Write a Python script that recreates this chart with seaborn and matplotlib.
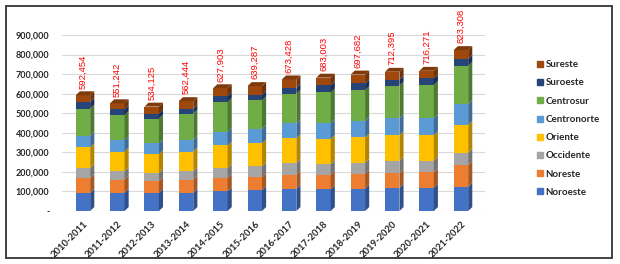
import numpy as np
import matplotlib
matplotlib.use("Agg")
import matplotlib.pyplot as plt
from matplotlib import font_manager
from matplotlib.lines import Line2D
from matplotlib.patches import Rectangle
import seaborn as sns

# Datos del gráfico (alumnos por región y ciclo escolar)
anios = ['2010-2011', '2011-2012', '2012-2013', '2013-2014', '2014-2015', '2015-2016',
         '2016-2017', '2017-2018', '2018-2019', '2019-2020', '2020-2021', '2021-2022']
noroeste = [93000, 93000, 93000, 93000, 101000, 106000, 113000, 110000, 115000, 119000, 119000, 124000]
noreste = [76000, 68000, 59000, 68000, 68000, 66000, 73000, 76000, 76000, 73000, 78000, 110000]
occidente = [51000, 42000, 42000, 42000, 51000, 56000, 59000, 53000, 56000, 64000, 61000, 64000]
oriente = [105000, 101000, 96000, 101000, 115000, 118000, 127000, 130000, 130000, 131000, 129000, 142000]
centronorte = [61000, 59000, 56000, 59000, 71000, 73000, 76000, 81000, 84000, 88000, 88000, 107000]
centrosur = [138000, 127000, 127000, 135000, 152000, 147000, 152000, 156000, 157000, 166000, 169000, 195000]
suroeste = [34000, 30000, 25000, 25000, 30000, 29000, 30000, 37000, 34000, 31000, 34000, 37000]
sureste = [34000, 31000, 36000, 39000, 40000, 44000, 43000, 39000, 46000, 40000, 39000, 44000]
totales = [592454, 551242, 534125, 562444, 627903, 639287, 673428, 683003, 697682, 712395, 716271, 823308]

regiones = ['Noroeste', 'Noreste', 'Occidente', 'Oriente', 'Centronorte', 'Centrosur', 'Suroeste', 'Sureste']
series = [noroeste, noreste, occidente, oriente, centronorte, centrosur, suroeste, sureste]
colores = ['#4472C4', '#ED7D31', '#A5A5A5', '#FFC000', '#5B9BD5', '#70AD47', '#264478', '#9E480E']

sns.set_theme(style="white")
plt.rcParams['font.family'] = ['Lato', 'DejaVu Sans']

# fuente angosta para los totales, si existe
instaladas = {f.name for f in font_manager.fontManager.ttflist}
angosta, tam_tot = 'Liberation Sans', 6.8
for nombre in ['Liberation Sans Narrow', 'DejaVu Sans Condensed']:
    if nombre in instaladas:
        angosta, tam_tot = nombre, 8
        break

fig = plt.figure(figsize=(6.2, 2.64), dpi=100)
ax = fig.add_axes([62 / 620, 53 / 264, 423 / 620, 176 / 264])

acum = np.cumsum(np.array(series), axis=0)
ancho = 0.42
dx, dy = 0.12, 20000  # profundidad del efecto 3D

# barras apiladas: de la más alta a la más baja, encimadas
for i in range(len(regiones) - 1, -1, -1):
    sns.barplot(x=anios, y=acum[i], color=colores[i], saturation=1, width=ancho,
                errorbar=None, ax=ax, zorder=3, linewidth=0)

# caras laterales y superior para simular 3D
x = np.arange(len(anios))
for i in range(len(regiones)):
    lado = tuple(c * 0.7 for c in matplotlib.colors.to_rgb(colores[i]))
    base = acum[i - 1] if i > 0 else np.zeros(len(anios))
    for j in range(len(anios)):
        xr = x[j] + ancho / 2
        ax.fill([xr, xr + dx, xr + dx, xr], [base[j], base[j] + dy, acum[i][j] + dy, acum[i][j]],
                color=lado, lw=0, zorder=3)
tapa = tuple(c * 0.8 for c in matplotlib.colors.to_rgb(colores[-1]))
for j in range(len(anios)):
    t = acum[-1][j]
    xl = x[j] - ancho / 2
    ax.fill([xl, xl + ancho, xl + ancho + dx, xl + dx], [t, t, t + dy, t + dy], color=tapa, lw=0, zorder=3)

# etiquetas con los totales
for j, tot in enumerate(totales):
    ax.annotate(f'{tot:,}', (x[j], acum[-1][j] + dy), xytext=(0, 2), textcoords='offset points',
                rotation=90, ha='center', va='bottom', color='red', fontsize=tam_tot,
                family=[angosta, 'DejaVu Sans'], annotation_clip=False)

ax.set_xlim(-0.61, 11.7)
ax.set_ylim(0, 900000)
ax.set_yticks(np.arange(0, 900001, 100000))
ax.set_yticklabels(['-'] + [f'{v:,}' for v in range(100000, 900001, 100000)],
                   fontsize=6.5, fontweight='bold')
ax.set_xticks(x)
ax.set_xticklabels(anios, rotation=45, ha='right', rotation_mode='anchor',
                   fontsize=6.8, fontweight='bold')
ax.tick_params(axis='y', length=0, pad=9)
ax.tick_params(axis='x', length=0, pad=6)
ax.set_xlabel('')
ax.set_ylabel('')
ax.yaxis.grid(True, color='#D9D9D9', lw=0.8, zorder=0)
ax.xaxis.grid(False)
sns.despine(ax=ax, left=True, bottom=True)

# leyenda (orden invertido)
manijas = [Line2D([], [], marker='s', ls='', markersize=4.5, color=colores[i]) for i in range(7, -1, -1)]
fig.legend(manijas, regiones[::-1], loc='center left', bbox_to_anchor=(536 / 620, 0.513),
           frameon=False, prop={'weight': 'bold', 'size': 7}, labelspacing=0.95,
           handletextpad=0.2, borderpad=0, borderaxespad=0, handlelength=0.8)

# marco del gráfico
fig.add_artist(Rectangle((6 / 620, 6 / 264), 606 / 620, 252 / 264, transform=fig.transFigure,
                         fill=False, edgecolor='#333333', lw=1.3))

fig.savefig('out.png', dpi=100)
